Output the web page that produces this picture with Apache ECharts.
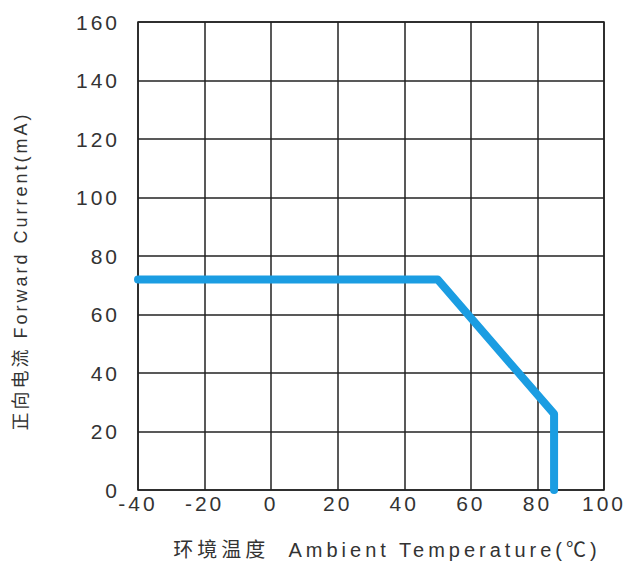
<!DOCTYPE html>
<html><head><meta charset="utf-8">
<script src="https://cdn.jsdelivr.net/npm/echarts@6/dist/echarts.min.js"></script>
<style>
html,body{margin:0;padding:0;background:#fff}
#c{width:635px;height:567px}
#c text{letter-spacing:3px}
#c text[style*="20px"]{letter-spacing:4px}
</style>
</head><body><div id="c"></div>
<script>
const temps = [-40, 50, 85, 85];
const currents = [72, 72, 26, 0];
const xTicks = [-40, -20, 0, 20, 40, 60, 80, 100];
const yTicks = [0, 20, 40, 60, 80, 100, 120, 140, 160];
const xTitle = '环境温度  Ambient Temperature(℃)';
const yTitle = '正向电流 Forward Current(mA)';

const chart = echarts.init(document.getElementById('c'), null, { renderer: 'svg' });
const lineColor = '#222';
const textColor = '#333';
const fam = '"Liberation Sans", Arial, "Noto Sans CJK SC", sans-serif';
chart.setOption({
  animation: false,
  grid: { left: 138, top: 22, right: 31, bottom: 77, show: true, borderColor: lineColor, borderWidth: 1.5 },
  xAxis: {
    type: 'value', min: xTicks[0], max: xTicks[xTicks.length - 1], interval: 20,
    axisLine: { show: false }, axisTick: { show: false },
    splitLine: { show: true, lineStyle: { color: lineColor, width: 1.5 } },
    axisLabel: { color: textColor, fontSize: 21, fontFamily: fam, margin: 3 },
    name: xTitle, nameLocation: 'middle', nameGap: 50,
    nameTextStyle: { color: textColor, fontSize: 20, fontFamily: fam, padding: [0, 0, 0, 32] }
  },
  yAxis: {
    type: 'value', min: yTicks[0], max: yTicks[yTicks.length - 1], interval: 20,
    axisLine: { show: false }, axisTick: { show: false },
    splitLine: { show: true, lineStyle: { color: lineColor, width: 1.5 } },
    axisLabel: { color: textColor, fontSize: 21, fontFamily: fam, margin: 18 },
    name: yTitle, nameLocation: 'middle', nameGap: 108, nameRotate: 90,
    nameTextStyle: { color: textColor, fontSize: 18, fontFamily: fam, padding: [0, 30, 0, 0] }
  },
  series: [{
    type: 'line', symbol: 'none',
    data: temps.map((t, i) => [t, currents[i]]),
    lineStyle: { color: '#1b9de2', width: 8, cap: 'round', join: 'round' }
  }]
});
</script></body></html>
